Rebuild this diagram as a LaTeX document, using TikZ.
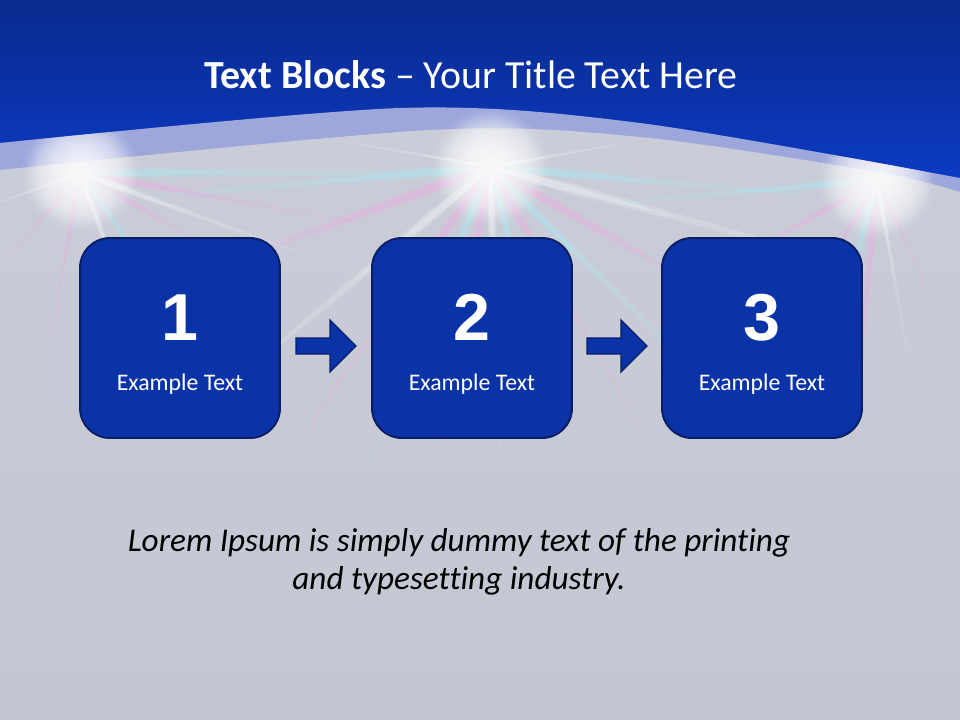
\documentclass[tikz,border=0pt]{standalone}
\usepackage{fontspec}
\setmainfont{Carlito}[RawFeature=-liga]
\newfontfamily\numfont{Liberation Sans}
\usetikzlibrary{positioning,calc,fadings}
\definecolor{topblue}{HTML}{0A2A8E}
\definecolor{midblue}{HTML}{0B3CC8}
\definecolor{bandlav}{HTML}{9DA7DB}
\definecolor{slidegray}{HTML}{C3C7D1}
\definecolor{lightgray}{HTML}{CACDD8}
\definecolor{boxblue}{HTML}{0B33A8}
\definecolor{boxedge}{HTML}{0A1E66}
\definecolor{raypink}{HTML}{F4A2E4}
\definecolor{raycyan}{HTML}{A2F2FA}
\tikzset{
  stepbox/.style   = {rectangle, rounded corners=7.9mm, fill=boxblue, draw=boxedge,
                      line width=1.5pt, minimum width=52.9mm, minimum height=52.9mm},
  numtext/.style   = {text=white, font=\numfont\bfseries\fontsize{50}{60}\selectfont, inner sep=0pt},
  steptext/.style  = {text=white, font=\fontsize{17.9}{21}\selectfont, inner sep=0pt},
  titletext/.style = {text=white, font=\fontsize{30}{36}\selectfont},
  bodytext/.style  = {text=black, font=\itshape\fontsize{25}{28.5}\selectfont, align=center},
  flowarrow/.pic   = {\draw[fill=boxblue, draw=boxedge, line width=1pt]
                      (-30,-8) -- (4,-8) -- (4,-26) -- (30,0) -- (4,26) -- (4,8) -- (-30,8) -- cycle;},
}

\begin{document}
\begin{tikzpicture}[x=0.2646mm, y=-0.2646mm]
  \useasboundingbox (0,0) rectangle (960,720);

  % background
  \shade[top color=topblue, bottom color=midblue] (0,0) rectangle (960,200);
  \fill[bandlav] (0,143) -- plot[smooth] coordinates {(0,143) (400,108) (640,123) (960,178)}
       -- (960,720) -- (0,720) -- cycle;
  \shade[top color=lightgray, bottom color=slidegray]
       (0,170) -- plot[smooth] coordinates {(0,170) (430,130) (640,137) (877,172) (960,192)}
       -- (960,720) -- (0,720) -- cycle;

  % flares
  \begin{scope}
    \clip (0,143) -- plot[smooth] coordinates {(0,143) (400,108) (640,123) (960,178)}
       -- (960,720) -- (0,720) -- cycle;
    \foreach \cx/\cy/\rays in {
        490/167/{60/320/raypink,75/300/raycyan,88/290/white,100/300/raypink,112/330/raycyan,
                 125/360/raypink,140/380/white,160/420/raypink,175/380/raycyan,45/340/raycyan,
                 30/380/raypink,15/400/white,5/350/raycyan,190/150/white,350/150/white},
        80/173/{0/350/raycyan,10/300/raypink,20/250/white,30/220/raypink,55/200/raycyan,
                70/220/white,100/200/raypink,130/150/raypink,160/120/white},
        877/180/{65/150/raypink,80/180/white,95/300/raypink,105/250/raycyan,120/200/raypink,
                 150/250/raypink,175/300/raycyan}} {
      \foreach \a/\l/\c in \rays {
        \fill[\c, opacity=0.18] (\cx,\cy) -- ++(\a+4:0.2*\l) -- ($(\cx,\cy)+(\a:\l)$)
             -- ($(\cx,\cy)+(\a-4:0.2*\l)$) -- cycle;
        \fill[\c, opacity=0.25] (\cx,\cy) -- ++(\a+5:0.12*\l) -- ($(\cx,\cy)+(\a:0.5*\l)$)
             -- ($(\cx,\cy)+(\a-5:0.12*\l)$) -- cycle;
      }
      \foreach \r in {6,12,...,60}
        \fill[white, opacity=0.2, path fading=circle with fuzzy edge 20 percent] (\cx,\cy) circle (\r);
    }
  \end{scope}

  % title
  \node[titletext] (title) at (471,75) {\textbf{Text Blocks} – Your Title Text Here};

  % blocks
  \foreach \i/\x in {1/180,2/472,3/762} {
    \node[stepbox] (box\i) at (\x,338) {};
    \node[numtext, anchor=base] (num\i) at (\x,340) {\i};
    \node[steptext, anchor=base] (lab\i) at (\x,390) {Example Text};
  }

  % arrows
  \foreach \a/\b in {1/2,2/3}
    \pic at ($(box\a.east)!0.5!(box\b.west)+(0,8)$) {flowarrow};

  % body text
  \node[bodytext] (body) at (459,562) {Lorem Ipsum is simply dummy text of the printing\\
    and typesetting industry.};
\end{tikzpicture}
\end{document}
